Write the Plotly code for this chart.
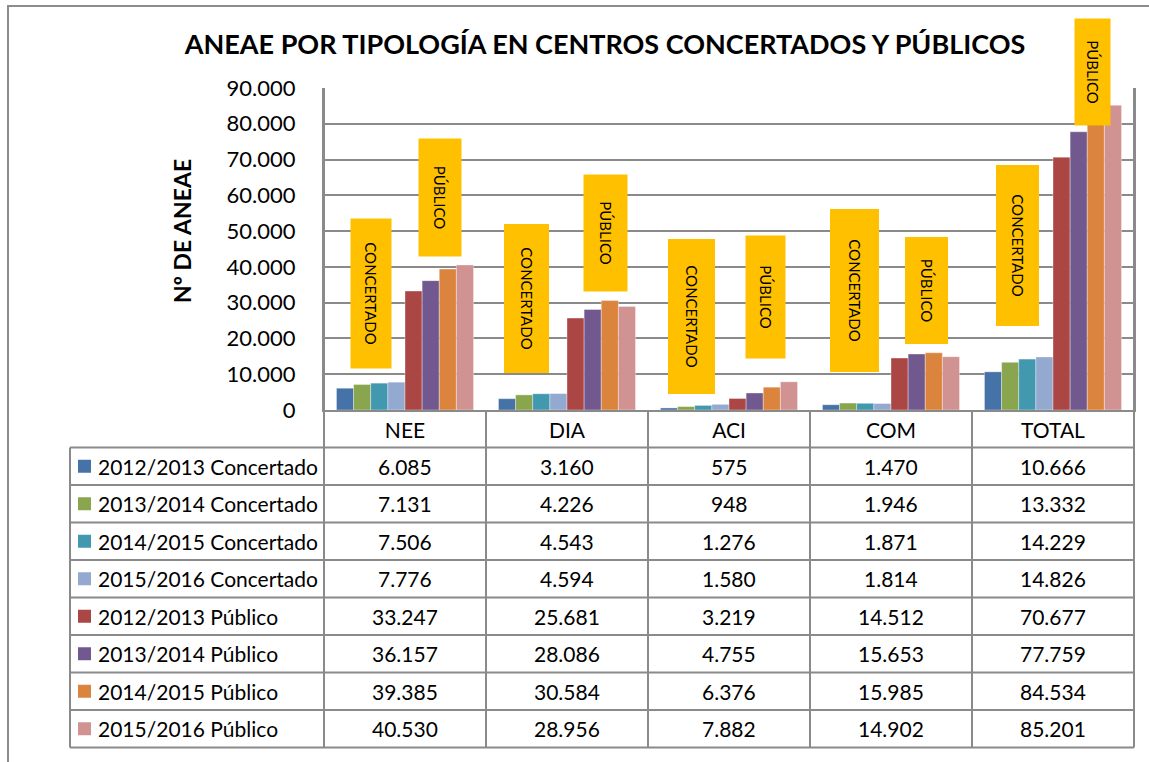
import plotly.graph_objects as go

# ---- data ----
categories = ["NEE", "DIA", "ACI", "COM", "TOTAL"]
series_names = [
    "2012/2013 Concertado", "2013/2014 Concertado", "2014/2015 Concertado", "2015/2016 Concertado",
    "2012/2013 Público", "2013/2014 Público", "2014/2015 Público", "2015/2016 Público",
]
conc_1213 = [6085, 3160, 575, 1470, 10666]
conc_1314 = [7131, 4226, 948, 1946, 13332]
conc_1415 = [7506, 4543, 1276, 1871, 14229]
conc_1516 = [7776, 4594, 1580, 1814, 14826]
pub_1213 = [33247, 25681, 3219, 14512, 70677]
pub_1314 = [36157, 28086, 4755, 15653, 77759]
pub_1415 = [39385, 30584, 6376, 15985, 84534]
pub_1516 = [40530, 28956, 7882, 14902, 85201]
series_values = [conc_1213, conc_1314, conc_1415, conc_1516,
                 pub_1213, pub_1314, pub_1415, pub_1516]

COLORS = ["#4572A7", "#89A54E", "#4198AF", "#93A9CF",
          "#AA4643", "#71588F", "#DB843D", "#D19392"]
FONT = "Lato, sans-serif"
GRID = "#8a8a8a"
BOX = "#FFC000"

# plot area in pixels
W, H = 1149, 762
L, R, T, B = 324, 1134, 88, 410
PW, PH = R - L, B - T


def px_x(p):
    return (p - L) / PW


def px_y(p):
    return (B - p) / PH


fig = go.Figure()
for name, vals, col in zip(series_names, series_values, COLORS):
    fig.add_trace(go.Bar(x=categories, y=vals, name=name, marker_color=col,
                         marker_line=dict(color="rgba(255,255,255,0.6)", width=0.6)))

shapes = []
annotations = []

# table grid
row_h = 37.5
rows_y = [B + row_h * i for i in range(len(series_names) + 2)]
for yy in rows_y[1:]:
    shapes.append(dict(type="line", xref="paper", yref="paper", x0=px_x(70), x1=px_x(R),
                       y0=px_y(yy), y1=px_y(yy), line=dict(color=GRID, width=2)))
shapes.append(dict(type="line", xref="paper", yref="paper", x0=px_x(70), x1=px_x(70),
                   y0=px_y(rows_y[1]), y1=px_y(rows_y[-1]), line=dict(color=GRID, width=2)))
n = len(categories)
for i in range(n + 1):
    xx = i / n
    y_top = px_y(T) if i in (0, n) else px_y(B)
    shapes.append(dict(type="line", xref="paper", yref="paper", x0=xx, x1=xx,
                       y0=y_top, y1=px_y(rows_y[-1]), line=dict(color=GRID, width=2)))

# table rows: legend key, label, values
for r, (name, vals, col) in enumerate(zip(series_names, series_values, COLORS)):
    yc = (rows_y[r + 1] + rows_y[r + 2]) / 2
    shapes.append(dict(type="rect", xref="paper", yref="paper", x0=px_x(78), x1=px_x(91),
                       y0=px_y(yc - 6.5), y1=px_y(yc + 6.5), fillcolor=col, line=dict(width=0)))
    annotations.append(dict(xref="paper", yref="paper", x=px_x(96), y=px_y(yc), text=name,
                            showarrow=False, xanchor="left", yanchor="middle",
                            font=dict(family=FONT, size=21, color="#000")))
    for c, v in enumerate(vals):
        annotations.append(dict(xref="paper", yref="paper", x=(c + 0.5) / n, y=px_y(yc),
                                text=f"{v:,}".replace(",", "."), showarrow=False,
                                xanchor="center", yanchor="middle",
                                font=dict(family=FONT, size=21, color="#000")))

# orange labels (pixel boxes: x0, x1, y0, y1)
box_text = ["CONCERTADO", "PÚBLICO"] * 5
box_px = [
    (351, 392, 218, 368), (419, 462, 138, 256),
    (504, 549, 224, 373), (584, 628, 174, 291),
    (668, 715, 239, 394), (746, 786, 235, 358),
    (830, 879, 209, 372), (905, 948, 237, 344),
    (996, 1039, 165, 326), (1074, 1110, 18, 125),
]
for txt, (x0, x1, y0, y1) in zip(box_text, box_px):
    annotations.append(dict(xref="paper", yref="paper", x=px_x((x0 + x1) / 2), y=px_y((y0 + y1) / 2),
                            text=txt, showarrow=False, textangle=90, xanchor="center", yanchor="middle",
                            width=y1 - y0, height=x1 - x0, bgcolor=BOX, borderpad=0, borderwidth=0,
                            font=dict(family=FONT, size=15, color="#000")))

# y axis title
annotations.append(dict(xref="paper", yref="paper", x=px_x(182), y=px_y(231), text="<b>Nº DE ANEAE</b>",
                        showarrow=False, textangle=-90, xanchor="center", yanchor="middle",
                        font=dict(family=FONT, size=23, color="#000")))

# outer chart border
shapes.append(dict(type="rect", xref="paper", yref="paper", x0=px_x(8), x1=px_x(W + 20),
                   y0=px_y(H + 20), y1=px_y(6), line=dict(color="#8c8c8c", width=2),
                   fillcolor="rgba(0,0,0,0)", layer="below"))

fig.update_layout(
    width=W, height=H, autosize=False,
    margin=dict(l=L, r=W - R, t=T, b=H - B),
    paper_bgcolor="white", plot_bgcolor="white",
    separators=",.",
    barmode="group", bargap=0.154, bargroupgap=0,
    showlegend=False,
    font=dict(family=FONT, color="#000"),
    title=dict(text="<b>ANEAE POR TIPOLOGÍA EN CENTROS CONCERTADOS Y PÚBLICOS</b>",
               xref="container", yref="container", x=605 / W, y=1 - 45 / H,
               xanchor="center", yanchor="middle", font=dict(family=FONT, size=27, color="#000")),
    xaxis=dict(showline=True, linecolor=GRID, linewidth=2, ticks="", showgrid=False,
               tickfont=dict(family=FONT, size=21, color="#000"), ticklabelstandoff=1),
    yaxis=dict(range=[0, 90000], dtick=10000, tickformat=",.0f", showgrid=True,
               gridcolor=GRID, gridwidth=1.5, showline=True, linecolor=GRID, linewidth=2,
               mirror=True, ticks="", zeroline=False, ticklabelstandoff=22,
               tickfont=dict(family=FONT, size=22, color="#000")),
    shapes=shapes, annotations=annotations,
)

fig.write_html("out.html", config={"displayModeBar": False},
               post_script="document.body.style.margin='0';")
